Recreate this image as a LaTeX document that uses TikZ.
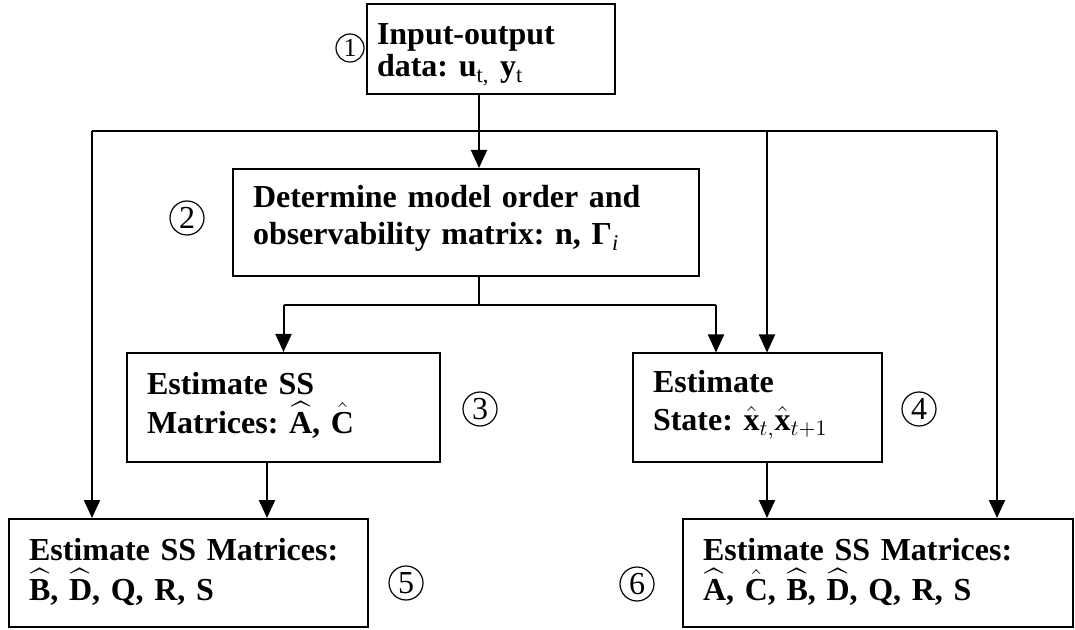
\documentclass[tikz,border=0pt]{standalone}
\usepackage{amsmath}
\usepackage{fontspec}
\setmainfont{Liberation Serif}
\usetikzlibrary{arrows.meta}

\newcommand{\hatb}[1]{\smash{\widehat{\textbf{#1}}}}
\newcommand{\hats}[1]{\smash{\hat{\textbf{#1}}}}

\tikzset{box/.style={rectangle, draw, line width=1pt, align=left, inner xsep=10pt, inner ysep=0pt, font=\fontsize{16}{18.5}\selectfont\bfseries\frenchspacing},
	num/.style={circle, draw, line width=0.6pt, minimum size=17pt, inner sep=0pt, font=\fontsize{16}{16}\selectfont},
	arr/.style={line width=1pt, -{Triangle[length=9pt,width=8pt]}}}

\begin{document}
\begin{tikzpicture}[x=0.5pt, y=-0.5pt, line width=1pt]
		\useasboundingbox (0,0) rectangle (1075,630);
		% Draw the boxes
		\node[box, inner xsep=5pt, text width=114pt, text height=20.5pt, text depth=24.5pt] (B1) at (491,49) {Input-output\\[-2.5pt]data: u\textsubscript{\normalfont t,} y\textsubscript{\normalfont t}};
		\node[box, text width=213pt, text height=19.5pt, text depth=34pt] (B2) at (466,222.5) {Determine model order and\\observability matrix: n, Γ\textsubscript{\normalfont\itshape i}};
		\node[box, text width=136.5pt, text height=20.5pt, text depth=34pt] (B3) at (283.5,407.5) {Estimate SS\\[1pt]Matrices: $\hatb{A}$, $\hats{C}$};
		\node[box, text width=104.5pt, text height=19.5pt, text depth=34.5pt] (B4) at (757.5,407.5) {Estimate\\[0.5pt]State: $\hats{x}_{t,}\hats{x}_{t+1}$};
		\node[box, text width=159.5pt, text height=20.5pt, text depth=33.5pt] (B5) at (188.5,573) {Estimate SS Matrices:\\[1.5pt]$\hatb{B}$, $\hatb{D}$, Q, R, S};
		\node[box, text width=175pt, text height=20.5pt, text depth=33.5pt] (B6) at (878,573) {Estimate SS Matrices:\\[1.5pt]$\hatb{A}$, $\hats{C}$, $\hatb{B}$, $\hatb{D}$, Q, R, S};
		
		% Draw the step numbers
		\node[num, minimum size=14pt, font=\fontsize{13}{13}\selectfont] (C1) at (350,48) {1};
		\node[num] (C2) at (187,218) {2};
		\node[num] (C3) at (480,409) {3};
		\node[num] (C4) at (919,409) {4};
		\node[num] (C5) at (406,583) {5};
		\node[num] (C6) at (637,584) {6};
		
		% Bus and branch points
		\coordinate (L) at (92,131);
		\coordinate (R) at (997,131);
		\coordinate (T) at (767,131);
		\coordinate (J) at (479,305);
		\coordinate (S1) at (283.5,305);
		\coordinate (S2) at (716,305);
		\coordinate (K) at (267,462);
		
		% Draw the connectors
		\draw (L) -- (R);
		\draw[arr] (B1.south -| J) -- (B2.north -| J);
		\draw (B2.south -| J) -- (J);
		\draw (S1) -- (S2);
		\draw[arr] (S1) -- (B3.north);
		\draw[arr] (S2) -- (S2 |- B4.north);
		\draw[arr] (T) -- (T |- B4.north);
		\draw[arr] (L) -- (L |- B5.north);
		\draw[arr] (R) -- (R |- B6.north);
		\draw[arr] (K |- B3.south) -- (K |- B5.north);
		\draw[arr] (T |- B4.south) -- (T |- B6.north);
		
	\end{tikzpicture}
\end{document}
